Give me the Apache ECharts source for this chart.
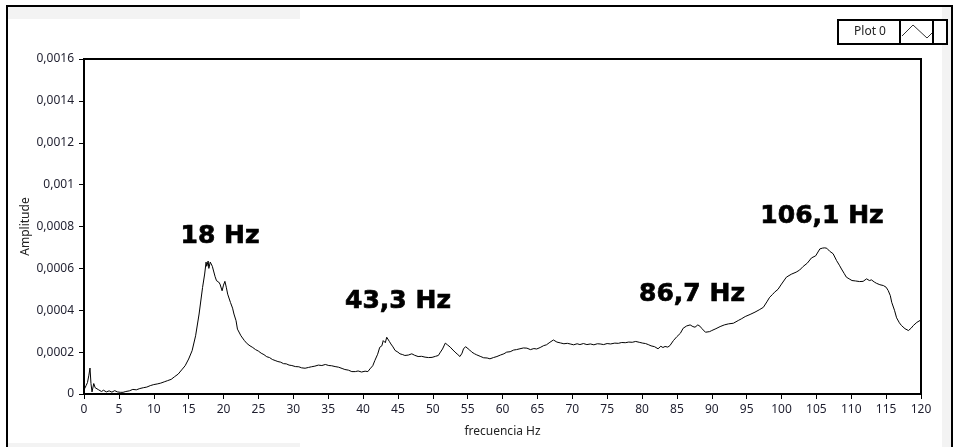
<!DOCTYPE html>
<html>
<head>
<meta charset="utf-8">
<script src="https://cdn.jsdelivr.net/npm/echarts@6/dist/echarts.min.js"></script>
<style>
html,body{margin:0;padding:0;background:#fff;}
#chart{width:959px;height:447px;}
</style>
</head>
<body>
<div id="chart"></div>
<script>
// Frequency (Hz)
const freq = [0,0.3,0.5,0.7,0.86,1.0,1.15,1.4,1.6,1.8,2.1,2.5,2.8,3.2,3.6,4.0,4.4,4.8,5.2,5.6,6.0,6.5,7.0,7.5,8.0,8.5,9.0,9.5,10,10.5,11,11.5,12,12.5,13,13.5,14,14.5,15,15.5,16,16.5,17,17.3,17.5,17.6,17.8,17.9,18.1,18.2,18.4,18.5,18.8,19,19.3,19.5,19.8,20.0,20.2,20.4,20.6,21,21.3,21.5,21.8,22,22.5,23,23.4,23.8,24.2,24.6,25,25.4,25.8,26.2,26.6,27,27.4,27.8,28.2,28.6,29,29.4,29.8,30.3,30.8,31.2,31.7,32.2,32.6,33.1,33.6,34.1,34.6,35.1,35.5,36,36.5,37,37.4,37.9,38.4,38.9,39.3,39.8,40.3,40.7,41.0,41.4,41.7,42.1,42.4,42.7,42.9,43.2,43.4,43.6,43.8,44.0,44.3,44.6,45.0,45.3,45.7,46.0,46.5,47.0,47.4,47.9,48.4,48.9,49.4,49.9,50.4,50.8,51.1,51.4,51.8,52.1,52.5,52.9,53.2,53.6,53.9,54.2,54.4,54.7,54.9,55.3,55.6,56.0,56.3,56.8,57.3,57.8,58.2,58.7,59.2,59.7,60.2,60.6,61.1,61.6,62.0,62.5,63.0,63.5,64.0,64.5,64.9,65.4,65.9,66.3,66.8,67.3,67.8,68.3,68.8,69.3,69.7,70.2,70.7,71.1,71.6,72.1,72.6,73.1,73.6,74.0,74.5,75.0,75.5,76.1,76.6,77.1,77.6,78.1,78.6,79.1,79.6,80.1,80.5,80.9,81.3,81.8,82.3,82.7,83.0,83.3,83.7,84.0,84.5,85.0,85.5,85.9,86.4,86.9,87.3,87.6,88.0,88.3,88.6,88.8,89.1,89.3,89.7,90.0,90.6,91.2,91.8,92.4,93.1,93.8,94.3,94.8,95.5,96.2,96.8,97.4,97.9,98.3,98.7,99.0,99.5,100.0,100.7,101.4,102.1,102.6,103.1,103.7,104.3,104.9,105.5,105.9,106.2,106.5,106.9,107.4,107.9,108.3,108.6,109.0,109.3,109.7,110.1,110.6,111.2,111.7,112.2,112.6,112.9,113.3,113.6,114.1,114.6,115.0,115.3,115.6,115.8,116.2,116.5,116.9,117.2,117.7,118.2,118.6,118.9,119.4,120];
// Amplitude, in units of 1e-4
const ampE4 = [0.2,0.4,0.55,0.9,1.24,0.5,0.1,0.5,0.3,0.25,0.2,0.12,0.18,0.1,0.15,0.09,0.16,0.1,0.08,0.08,0.12,0.15,0.22,0.2,0.26,0.3,0.33,0.4,0.45,0.48,0.52,0.58,0.64,0.7,0.83,0.95,1.15,1.35,1.67,2.07,2.78,3.82,5.09,5.73,6.3,6.1,6.35,6.0,6.3,6.28,6.1,5.97,5.6,5.41,5.35,5.25,4.93,5.2,5.38,5.1,4.77,4.37,4.1,3.82,3.5,3.1,2.78,2.55,2.4,2.3,2.22,2.12,2.05,1.95,1.88,1.78,1.74,1.65,1.6,1.55,1.52,1.45,1.44,1.38,1.36,1.31,1.3,1.25,1.23,1.27,1.3,1.33,1.38,1.36,1.41,1.36,1.35,1.31,1.28,1.22,1.17,1.14,1.07,1.07,1.1,1.05,1.09,1.07,1.2,1.35,1.6,1.9,2.23,2.3,2.55,2.45,2.71,2.79,2.5,2.39,2.25,2.08,2.0,1.92,1.88,1.84,1.86,1.92,1.85,1.79,1.8,1.76,1.74,1.75,1.8,1.84,2.0,2.15,2.43,2.35,2.24,2.1,2.0,1.88,1.79,1.95,2.15,2.26,2.24,2.1,2.0,1.92,1.87,1.8,1.73,1.72,1.68,1.74,1.79,1.86,1.92,2.0,2.02,2.1,2.12,2.16,2.2,2.19,2.12,2.17,2.15,2.22,2.31,2.35,2.47,2.58,2.48,2.44,2.4,2.42,2.39,2.35,2.4,2.36,2.41,2.36,2.39,2.35,2.4,2.39,2.36,2.41,2.39,2.43,2.42,2.46,2.45,2.48,2.47,2.51,2.47,2.43,2.41,2.36,2.3,2.26,2.16,2.28,2.22,2.27,2.24,2.31,2.55,2.74,2.9,3.14,3.25,3.3,3.22,3.19,3.3,3.24,3.12,3.03,2.95,2.9,2.98,3.03,3.12,3.22,3.3,3.35,3.38,3.51,3.6,3.7,3.8,3.91,4.02,4.14,4.4,4.62,4.75,4.86,5.0,5.25,5.58,5.72,5.82,5.92,6.09,6.25,6.5,6.6,6.93,6.97,6.98,6.96,6.82,6.7,6.37,6.15,5.97,5.75,5.58,5.5,5.42,5.4,5.37,5.38,5.5,5.42,5.45,5.35,5.29,5.22,5.18,5.1,4.94,4.7,4.38,4.0,3.64,3.4,3.27,3.12,3.03,3.15,3.27,3.42,3.54];
// Peak annotations
const peakLabels = ['18 Hz','43,3 Hz','86,7 Hz','106,1 Hz'];
const seriesName = 'Plot 0';
const xAxisName = 'frecuencia Hz';
const yAxisName = 'Amplitude';

const data = freq.map((f, i) => [f, ampE4[i] * 1e-4]);

const chart = echarts.init(document.getElementById('chart'), null, {renderer: 'canvas'});
const tickFont = {fontFamily: 'Noto Sans', fontSize: 12, color: '#1e1e2e'};
const annFont = {fontFamily: 'DejaVu Sans', fontWeight: 'bold', fontSize: 25, fill: '#000', stroke: '#000', lineWidth: 0.7};
const annPos = [[220, 236], [398, 301], [692, 294], [822, 216]];

chart.setOption({
  animation: false,
  backgroundColor: '#fff',
  grid: {left: 84, right: 38, top: 59, bottom: 53, show: true, borderColor: '#000', borderWidth: 2, backgroundColor: '#fff'},
  xAxis: {
    type: 'value', min: 0, max: 120, interval: 5,
    name: xAxisName, nameLocation: 'middle', nameGap: 32, nameMoveOverlap: false,
    nameTextStyle: {fontFamily: 'Noto Sans', fontSize: 12, color: '#222'},
    axisLine: {show: true, lineStyle: {color: '#000', width: 1}},
    axisTick: {show: true, length: 5, lineStyle: {color: '#000'}},
    axisLabel: Object.assign({margin: 10}, tickFont),
    splitLine: {show: false}
  },
  yAxis: {
    type: 'value', min: 0, max: 0.0016, interval: 0.0002,
    name: yAxisName, nameLocation: 'middle', nameGap: 52, nameRotate: 90, nameMoveOverlap: false,
    nameTextStyle: {fontFamily: 'Noto Sans', fontSize: 12, color: '#222'},
    axisLine: {show: true, lineStyle: {color: '#000', width: 1}},
    axisTick: {show: true, length: 5, lineStyle: {color: '#000'}},
    axisLabel: Object.assign({margin: 10, formatter: v => String(+v.toFixed(6)).replace('.', ',')}, tickFont),
    splitLine: {show: false}
  },
  series: [{
    name: seriesName, type: 'line', data: data, showSymbol: false, symbol: 'none',
    lineStyle: {color: '#000', width: 1}, z: 3
  }],
  graphic: [
    {type: 'rect', shape: {x: 8, y: 7, width: 292, height: 12}, style: {fill: '#f3f3f3'}, silent: true, z: -1},
    {type: 'rect', shape: {x: 942, y: 7, width: 9, height: 440}, style: {fill: '#f3f3f3'}, silent: true, z: -1},
    {type: 'rect', shape: {x: 8, y: 443, width: 292, height: 4}, style: {fill: '#f3f3f3'}, silent: true, z: -1},
    {type: 'polyline', shape: {points: [[7, 447], [7, 6], [952, 6], [952, 447]]}, style: {stroke: '#000', lineWidth: 2, fill: null}, silent: true},
    {type: 'rect', shape: {x: 838, y: 20, width: 109, height: 24}, style: {fill: '#fff', stroke: '#000', lineWidth: 2}, silent: true},
    {type: 'text', x: 870, y: 32, style: {text: seriesName, fontFamily: 'Noto Sans', fontSize: 12, fill: '#222', align: 'center', verticalAlign: 'middle'}, silent: true},
    {type: 'rect', shape: {x: 900, y: 20, width: 33, height: 24}, style: {fill: '#fff', stroke: '#000', lineWidth: 2}, silent: true},
    {type: 'polyline', shape: {points: [[902, 36], [913, 25], [927, 38], [932, 33]]}, style: {stroke: '#333', lineWidth: 1, fill: null}, silent: true},
    ...peakLabels.map((t, i) => ({
      type: 'text', x: annPos[i][0], y: annPos[i][1], z: 10, silent: true,
      style: Object.assign({text: t, align: 'center', verticalAlign: 'middle'}, annFont)
    }))
  ]
});
</script>
</body>
</html>
